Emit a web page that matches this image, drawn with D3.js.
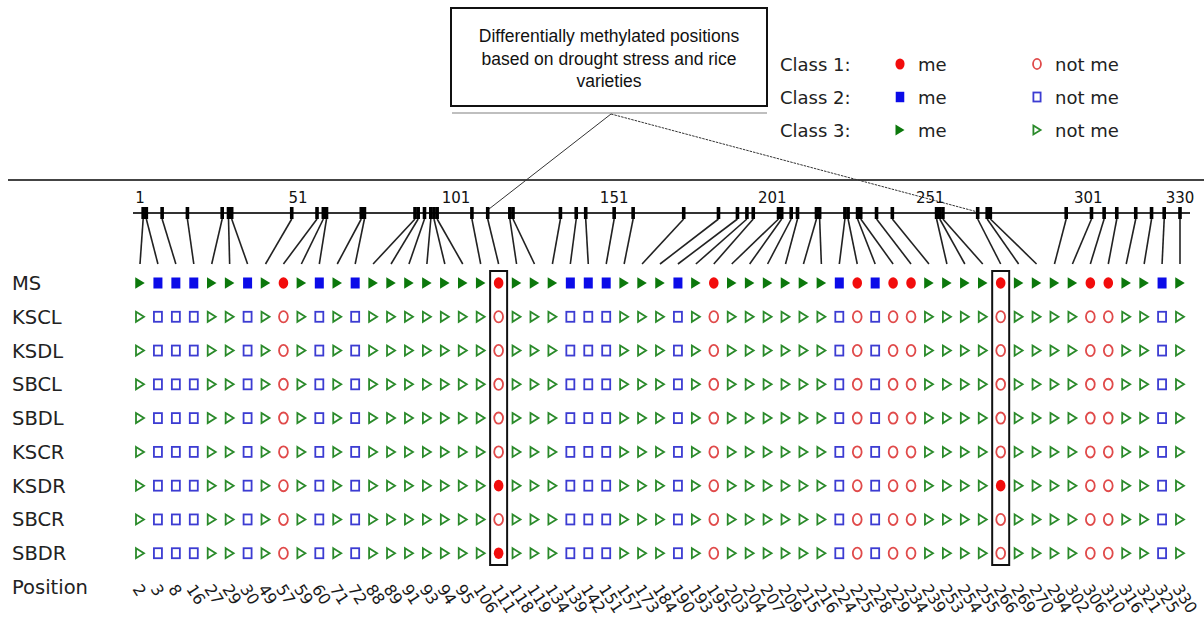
<!DOCTYPE html>
<html>
<head>
<meta charset="utf-8">
<script src="https://cdn.jsdelivr.net/npm/d3@7/dist/d3.min.js"></script>
<style>
  html, body { margin: 0; padding: 0; background: #fff; }
  svg { display: block; }
</style>
</head>
<body>
<svg id="chart" width="1204" height="617"></svg>
<script>
// Differentially methylated positions (base positions along the fragment)
const positions = [2,3,8,16,27,29,30,49,57,59,60,71,72,88,89,91,93,94,95,106,
  111,118,119,134,139,142,151,157,173,184,190,193,195,203,204,207,209,215,216,224,
  225,228,229,234,239,253,254,255,266,269,270,294,302,306,310,316,321,325,330];

// Methylation class of each position (1 = circle, 2 = square, 3 = triangle)
const posClass = [3,2,2,2,3,3,2,3,1,3,2,3,2,3,3,3,3,3,3,3,
  1,3,3,3,2,2,2,3,3,3,2,3,1,3,3,3,3,3,3,2,
  1,2,1,1,3,3,3,3,1,3,3,3,3,1,1,3,3,2,3];

// Rows: MS summary followed by samples
const rowNames = ["MS","KSCL","KSDL","SBCL","SBDL","KSCR","KSDR","SBCR","SBDR"];

// Positions called methylated in each sample (MS row is fully methylated)
const methylated = {
  MS: positions.slice(),
  KSCL: [], KSDL: [], SBCL: [], SBDL: [], KSCR: [],
  KSDR: [111, 266],
  SBCR: [],
  SBDR: [111]
};

// Highlighted positions
const highlighted = [111, 266];

// Genomic axis tick labels
const axisTicks = [1, 51, 101, 151, 201, 251, 301, 330];

const legendClasses = ["Class 1:", "Class 2:", "Class 3:"];

const fillColor = {1: "#f20c0c", 2: "#0b0be8", 3: "#0c780c"};
const openColor = {1: "#e04a4a", 2: "#3c3cd2", 3: "#2a8a2a"};

const svg = d3.select("#chart");

const colX = d3.scalePoint().domain(positions).range([140, 1180]);
const gx = d3.scaleLinear().domain([1, 330]).range([140, 1180]);
const rowY = d3.scalePoint().domain(rowNames.concat(["Position"])).range([283, 587]);

// Symbol drawing helper
function drawMarker(g, cls, filled, x, y, s) {
  const c = filled ? fillColor[cls] : openColor[cls];
  const sw = 1.8;
  if (cls === 1) {
    const rx = filled ? 4.8 * s : 4.4 * s, ry = filled ? 5.8 * s : 5.6 * s;
    g.append("ellipse").attr("cx", x).attr("cy", y).attr("rx", rx).attr("ry", ry)
      .attr("fill", filled ? c : "none").attr("stroke", c).attr("stroke-width", filled ? 0 : sw);
  } else if (cls === 2) {
    const w = filled ? 9 * s : 8 * s, h = filled ? 11 * s : 10 * s;
    g.append("rect").attr("x", x - w / 2).attr("y", y - h / 2).attr("width", w).attr("height", h)
      .attr("fill", filled ? c : "none").attr("stroke", c).attr("stroke-width", filled ? 0 : sw);
  } else {
    const w = filled ? 9.5 * s : 8 * s, h = filled ? 11.5 * s : 10 * s;
    const pts = [[x - w / 2, y - h / 2], [x + w / 2, y], [x - w / 2, y + h / 2]];
    g.append("polygon").attr("points", pts.map(p => p.join(",")).join(" "))
      .attr("fill", filled ? c : "none").attr("stroke", c).attr("stroke-width", filled ? 0 : sw)
      .attr("stroke-linejoin", "miter");
  }
}

// Separator line
svg.append("line").attr("x1", 8).attr("x2", 1204).attr("y1", 180).attr("y2", 180)
  .attr("stroke", "#444").attr("stroke-width", 2);

// Annotation box
svg.append("rect").attr("x", 451).attr("y", 8).attr("width", 316).attr("height", 98)
  .attr("fill", "#fff").attr("stroke", "#111").attr("stroke-width", 2);
const boxLines = ["Differentially methylated positions", "based on drought stress and rice", "varieties"];
svg.append("g").selectAll("text").data(boxLines).join("text")
  .attr("x", 609).attr("y", (d, i) => 42 + i * 22.5)
  .attr("text-anchor", "middle")
  .attr("font-family", "Liberation Sans, Arial, sans-serif").attr("font-size", 17.5)
  .attr("fill", "#111").text(d => d);
svg.append("line").attr("x1", 452).attr("x2", 767).attr("y1", 113).attr("y2", 113)
  .attr("stroke", "#aaa").attr("stroke-width", 1.5);

// Callout lines to the highlighted positions
svg.append("line").attr("x1", 611).attr("y1", 114).attr("x2", gx(highlighted[0])).attr("y2", 210)
  .attr("stroke", "#333").attr("stroke-width", 1);
svg.append("line").attr("x1", 611).attr("y1", 114).attr("x2", gx(highlighted[1])).attr("y2", 212)
  .attr("stroke", "#333").attr("stroke-width", 1).attr("stroke-dasharray", "2.5,1");

// Genomic axis
const axisY = 213;
svg.append("line").attr("x1", 133).attr("x2", 1190).attr("y1", axisY).attr("y2", axisY)
  .attr("stroke", "#333").attr("stroke-width", 2);
svg.append("g").selectAll("text").data(axisTicks).join("text")
  .attr("x", d => gx(d)).attr("y", 203).attr("text-anchor", "middle")
  .attr("font-family", "DejaVu Sans, sans-serif").attr("font-size", 15)
  .attr("fill", "#111").text(d => d);

// Position marks on the axis and connectors to the columns
svg.append("g").selectAll("line").data(positions).join("line")
  .attr("x1", d => gx(d)).attr("y1", 219)
  .attr("x2", d => colX(d)).attr("y2", 264)
  .attr("stroke", "#222").attr("stroke-width", 1.6);
svg.append("g").selectAll("rect").data(positions).join("rect")
  .attr("x", d => gx(d) - 1.8).attr("y", 207).attr("width", 3.6).attr("height", 12)
  .attr("fill", "#000");

// Row labels
svg.append("g").selectAll("text").data(rowNames.concat(["Position"])).join("text")
  .attr("x", 12).attr("y", d => rowY(d) + 7)
  .attr("font-family", "DejaVu Sans, sans-serif").attr("font-size", 19.5)
  .attr("fill", "#222").text(d => d);

// Marker grid
const grid = svg.append("g");
rowNames.forEach(r => {
  const me = new Set(methylated[r]);
  positions.forEach((p, i) => {
    drawMarker(grid, posClass[i], me.has(p), colX(p), rowY(r), 1);
  });
});

// Highlight boxes around selected columns
svg.append("g").selectAll("rect").data(highlighted).join("rect")
  .attr("x", d => colX(d) - 8.5).attr("y", 271).attr("width", 17).attr("height", 294)
  .attr("fill", "none").attr("stroke", "#111").attr("stroke-width", 2);

// Position labels (rotated)
svg.append("g").selectAll("text").data(positions).join("text")
  .attr("transform", d => `translate(${colX(d) - 8},${589}) rotate(57)`)
  .attr("font-family", "DejaVu Sans, sans-serif").attr("font-size", 16)
  .attr("fill", "#1a1a1a").text(d => d);

// Legend
const leg = svg.append("g");
legendClasses.forEach((t, i) => {
  const y = 64 + i * 33;
  leg.append("text").attr("x", 780).attr("y", y + 7)
    .attr("font-family", "DejaVu Sans, sans-serif").attr("font-size", 18)
    .attr("fill", "#222").text(t);
  drawMarker(leg, i + 1, true, 900, y, 0.95);
  leg.append("text").attr("x", 918).attr("y", y + 7)
    .attr("font-family", "DejaVu Sans, sans-serif").attr("font-size", 18)
    .attr("fill", "#222").text("me");
  drawMarker(leg, i + 1, false, 1037, y, 0.9);
  leg.append("text").attr("x", 1055).attr("y", y + 7)
    .attr("font-family", "DejaVu Sans, sans-serif").attr("font-size", 18)
    .attr("fill", "#222").text("not me");
});
</script>
</body>
</html>
